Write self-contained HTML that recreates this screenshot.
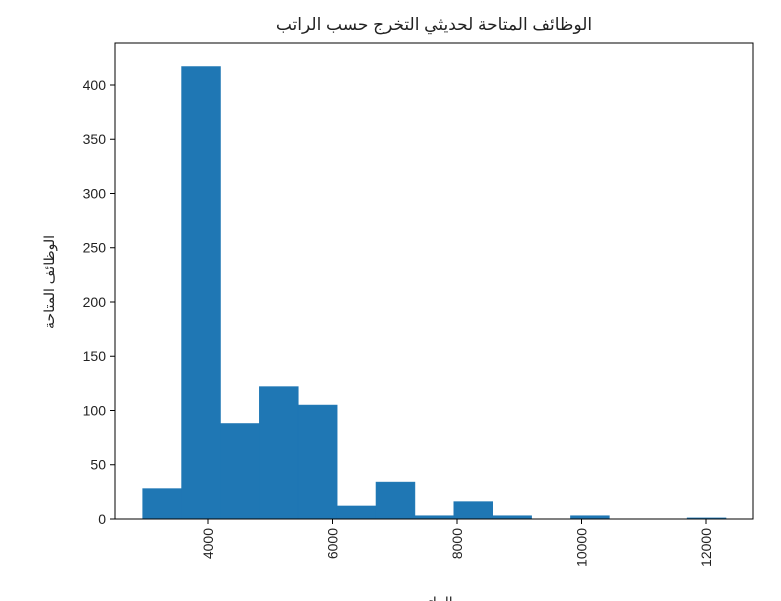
<!DOCTYPE html>
<html><head><meta charset="utf-8">
<style>
html,body{margin:0;padding:0;background:#fff;width:781px;height:601px;overflow:hidden}
svg text{font-family:"Liberation Sans","DejaVu Sans","Noto Sans CJK SC",sans-serif;fill:#222}
</style></head>
<body>
<svg id="chart" width="781" height="601" xmlns="http://www.w3.org/2000/svg">
<text x="434" y="30" font-size="17" text-anchor="middle" direction="rtl">الوظائف المتاحة لحديثي التخرج حسب الراتب</text>
<g id="bars"></g>
<g id="xticks"></g>
<g id="yticks"></g>
<rect x="115" y="43" width="638" height="476" fill="none" stroke="#000" stroke-width="1"/>
<text transform="translate(54,282) rotate(-90)" font-size="14" text-anchor="middle" direction="rtl">الوظائف المتاحة</text>
<text x="434" y="607" font-size="14" text-anchor="middle" direction="rtl">الراتب</text>
</svg>
<script>
const binStart = 2951;
const binWidth = 624.7;
const counts = [28, 417, 88, 122, 105, 12, 34, 3, 16, 3, 0, 3, 0, 0, 1];
const xTicks = [4000, 6000, 8000, 10000, 12000];
const yTicks = [0, 50, 100, 150, 200, 250, 300, 350, 400];
const NS = "http://www.w3.org/2000/svg";
const X0 = 115, X1 = 753, Y0 = 519, Y1 = 43;
const xMin = 2506, xMax = 12755, yMax = 438.7;
const xs = v => X0 + (v - xMin) / (xMax - xMin) * (X1 - X0);
const ys = v => Y0 - v / yMax * (Y0 - Y1);
function mk(tag, attrs, parent){const e=document.createElementNS(NS,tag);for(const k in attrs)e.setAttribute(k,attrs[k]);parent.appendChild(e);return e;}
const bars = document.getElementById('bars');
counts.forEach((c,i)=>{
  const a = xs(binStart + i*binWidth), b = xs(binStart + (i+1)*binWidth);
  const r = mk('rect',{x:a,y:ys(c),width:b-a,height:Y0-ys(c),fill:'#1f77b4',stroke:'#1f77b4','stroke-width':0.6},bars);
  
  
});
const xg = document.getElementById('xticks');
xTicks.forEach(t=>{
  const x = xs(t);
  mk('line',{x1:x,x2:x,y1:Y0,y2:Y0+5,stroke:'#000'},xg);
  const tx = mk('text',{x:0,y:0,'font-size':14,'text-anchor':'end',transform:`translate(${x+5},${Y0+9}) rotate(-90)`},xg);
  tx.textContent = t;
  
  
});
const yg = document.getElementById('yticks');
yTicks.forEach(t=>{
  const y = ys(t);
  mk('line',{x1:X0-5,x2:X0,y1:y,y2:y,stroke:'#000'},yg);
  const tx = mk('text',{x:X0-9,y:y+5,'font-size':14,'text-anchor':'end'},yg);
  tx.textContent = t;
  
  
});
</script>
</body></html>
